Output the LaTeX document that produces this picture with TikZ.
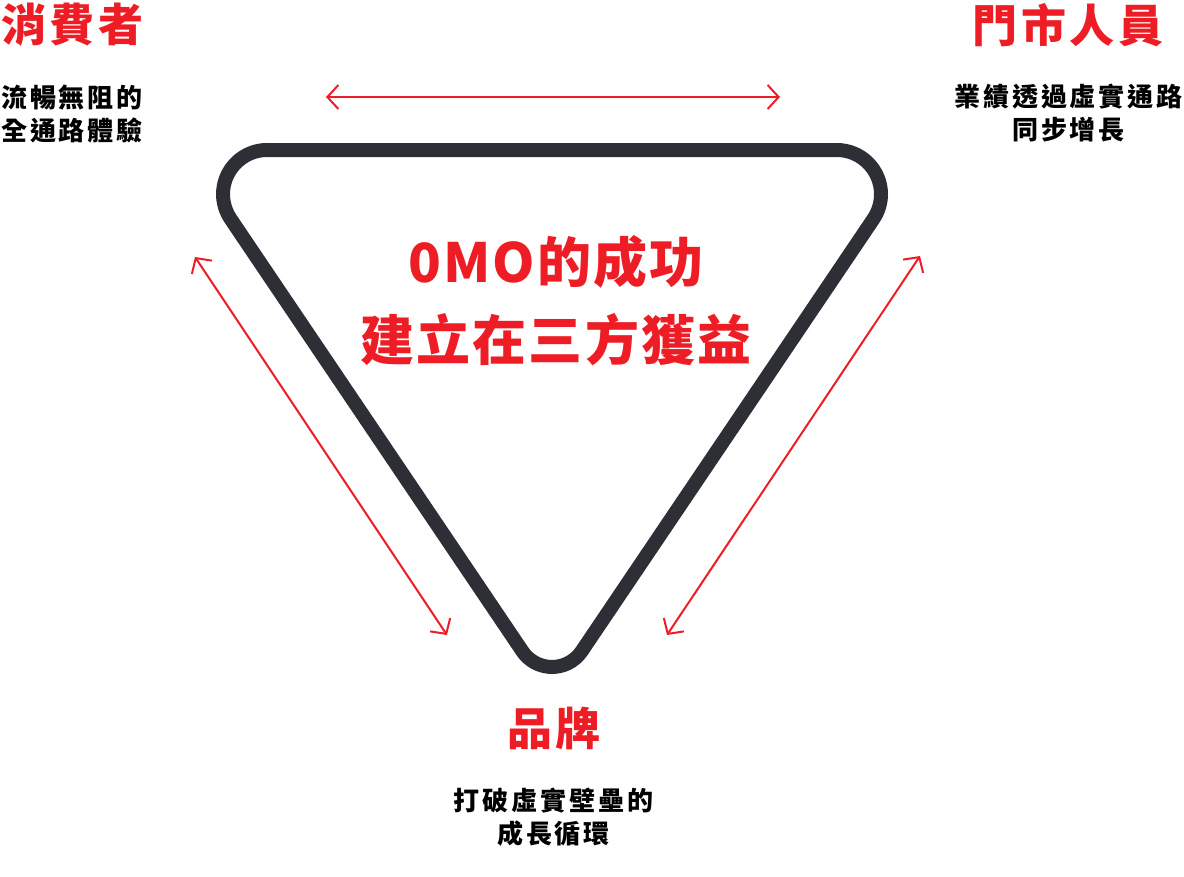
\documentclass[tikz,border=0pt]{standalone}
\usepackage{fontspec}
\newfontfamily\cjkA[LetterSpace=8.5]{Noto Sans CJK TC}
\newfontfamily\cjkB[LetterSpace=11]{Noto Sans CJK TC}
\newfontfamily\cjkC[LetterSpace=4]{Noto Sans CJK TC}
\usetikzlibrary{arrows.meta}
\definecolor{ored}{HTML}{EE1D25}
\definecolor{tridark}{HTML}{2E2E36}
\begin{document}
\begin{tikzpicture}[x=1pt,y=-1pt,
  title/.style={font=\cjkA\bfseries\fontsize{45}{45}\selectfont, text=ored, inner sep=0pt},
  center/.style={font=\cjkC\bfseries\fontsize{54}{54}\selectfont, text=ored, inner sep=0pt},
  sub/.style={font=\cjkB\bfseries\fontsize{26}{26}\selectfont, text=black, inner sep=0pt},
  link/.style={draw=ored, line width=2pt, {Straight Barb[length=11pt,width=24pt]}-{Straight Barb[length=11pt,width=24pt]}},
  tri/.style={draw=tridark, line width=14pt, line join=round}]
\useasboundingbox (0,0) rectangle (1184,876);
% triangle (rounded corners as circular arcs)
\coordinate (t1) at (267.2,150);
\coordinate (t2) at (836.8,150);
\coordinate (t3) at (581.7,651.2);
\coordinate (t4) at (230.6,218.9);
\path[tri] (t1) -- (t2) arc[start angle=-90, end angle=34.02, radius=44.2]
  -- (t3) arc[start angle=34.02, end angle=145.98, radius=35.8]
  -- (t4) arc[start angle=145.98, end angle=270, radius=44.2] -- cycle;
% arrows
\coordinate (a1) at (326,97);
\coordinate (a2) at (780,97);
\coordinate (b1) at (195,257);
\coordinate (b2) at (447,635);
\coordinate (c1) at (920,256);
\coordinate (c2) at (667,635);
\draw[link] (a1) -- (a2);
\draw[link] (b1) -- (b2);
\draw[link] (c1) -- (c2);
% texts
\node[title, anchor=west] (consumer) at (1,25) {消費者};
\node[sub, anchor=west] (consumer1) at (1,97) {流暢無阻的};
\node[sub, anchor=west] (consumer2) at (1,130) {全通路體驗};
\node[title] (staff) at (1068,25) {門市人員};
\node[sub] (staff1) at (1068.5,97) {業績透過虛實通路};
\node[sub] (staff2) at (1068.5,130) {同步增長};
\node[title] (brand) at (554,728) {品牌};
\node[sub] (brand1) at (553.5,801) {打破虛實壁壘的};
\node[sub] (brand2) at (553.5,834) {成長循環};
\node[center] (main1) at (556,262) {0MO的成功};
\node[center] (main2) at (556,340) {建立在三方獲益};
\end{tikzpicture}
\end{document}
